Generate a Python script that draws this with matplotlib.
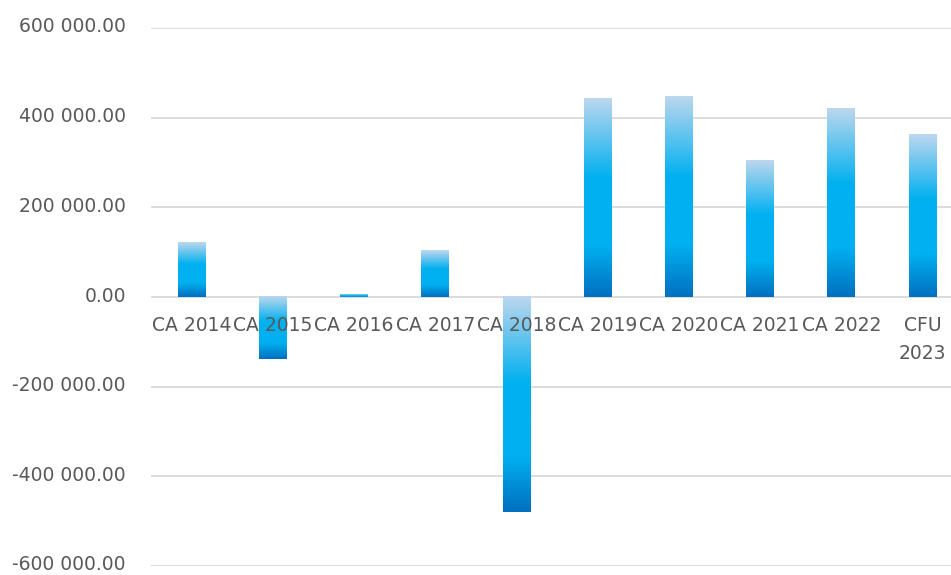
import numpy as np
import matplotlib
matplotlib.use('Agg')
import matplotlib.pyplot as plt
from matplotlib.colors import LinearSegmentedColormap
from matplotlib.ticker import FuncFormatter
from matplotlib.transforms import ScaledTranslation

# Values
categories = ['CA 2014', 'CA 2015', 'CA 2016', 'CA 2017', 'CA 2018',
              'CA 2019', 'CA 2020', 'CA 2021', 'CA 2022', 'CFU\n2023']
values = [121500, -139400, 5000, 103700, -479800,
          442600, 447000, 304300, 420300, 362300]
y_ticks = [-600000, -400000, -200000, 0, 200000, 400000, 600000]

# Excel-like vertical gradient: dark at bottom, bright in the middle, pale on top
cmap = LinearSegmentedColormap.from_list(
    'excel_blue',
    [(0.0, '#0070C0'), (0.26, '#00B0F0'), (0.60, '#00B0F0'), (1.0, '#BDD7EE')])
grad = np.linspace(0, 1, 256).reshape(-1, 1)

fig = plt.figure(figsize=(9.51, 5.75), dpi=100)
W, H = 951, 575
ax = fig.add_axes([151 / W, 9 / H, 812 / W, 538 / H])

bar_w = 0.34
for i, v in enumerate(values):
    lo, hi = min(0, v), max(0, v)
    ax.imshow(grad, extent=[i - bar_w / 2, i + bar_w / 2, lo, hi],
              origin='lower', aspect='auto', cmap=cmap, zorder=2,
              interpolation='bilinear')

# Gridlines
for t in y_ticks:
    ax.axhline(t, color='#D9D9D9', lw=1.3, zorder=0.5)

ax.set_xlim(-0.5, len(categories) - 0.5)
ax.set_ylim(-600000, 600000)
ax.set_yticks(y_ticks)
ax.yaxis.set_major_formatter(
    FuncFormatter(lambda v, p: f'{v:,.2f}'.replace(',', ' ')))

ax.set_xticks(range(len(categories)))
ax.set_xticklabels(categories)
ax.spines['bottom'].set_position(('data', 0))
for s in ax.spines.values():
    s.set_visible(False)
ax.set_axisbelow(False)

ax.tick_params(axis='y', length=0, pad=18, labelsize=13.5, labelcolor='#595959')
ax.tick_params(axis='x', length=0, pad=14, labelsize=13.5, labelcolor='#595959')
for lbl in ax.get_xticklabels():
    lbl.set_linespacing(1.55)
    lbl.set_zorder(5)

# nudge the y labels up a little, as in the reference
shift = ScaledTranslation(0, 3 / 100, fig.dpi_scale_trans)
for lbl in ax.get_yticklabels():
    lbl.set_transform(lbl.get_transform() + shift)

fig.savefig('out.png', dpi=100)
